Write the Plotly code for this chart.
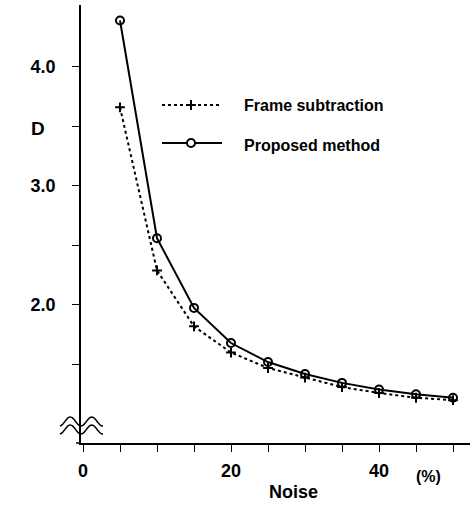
import numpy as np
import plotly.graph_objects as go

noise = [5, 10, 15, 20, 25, 30, 35, 40, 45, 50]
frame_subtraction = [3.66, 2.29, 1.82, 1.60, 1.47, 1.39, 1.31, 1.26, 1.22, 1.20]
proposed_method = [4.39, 2.56, 1.975, 1.68, 1.52, 1.42, 1.345, 1.29, 1.25, 1.22]
x_tickvals = [0, 5, 10, 15, 20, 25, 30, 35, 40, 45, 50]
x_ticktext = ["0", "", "", "", "20", "", "", "", "40", "", ""]
y_tickvals = [1.5, 2.0, 2.5, 3.0, 3.5, 4.0]
y_ticktext = ["", "2.0", "", "3.0", "", "4.0"]

W, H = 474, 507
L, R, T, B = 81, 4, 5, 64
PW, PH = W - L - R, H - T - B
def px(x): return (x - L) / PW
def py(y): return (H - B - y) / PH

FONT = "Liberation Sans, Arial, Helvetica, sans-serif"

fig = go.Figure()
fig.add_trace(go.Scatter(x=noise, y=frame_subtraction, mode="lines+markers",
                         line=dict(color="black", width=2, dash="dot"),
                         marker=dict(symbol="cross-thin", size=7, line=dict(color="black", width=2)),
                         name="Frame subtraction", showlegend=False))
fig.add_trace(go.Scatter(x=noise, y=proposed_method, mode="lines+markers",
                         line=dict(color="black", width=2),
                         marker=dict(symbol="circle-open", size=8, color="black", line=dict(color="black", width=2)),
                         name="Proposed method", showlegend=False))

# legend samples (paper-coordinate overlay axes)
fig.add_trace(go.Scatter(x=[px(162), px(222)], y=[py(105), py(105)], mode="lines",
                         line=dict(color="black", width=2, dash="dot"), xaxis="x2", yaxis="y2", showlegend=False))
fig.add_trace(go.Scatter(x=[px(191)], y=[py(105)], mode="markers",
                         marker=dict(symbol="cross-thin", size=7, line=dict(color="black", width=2)),
                         xaxis="x2", yaxis="y2", showlegend=False))
fig.add_trace(go.Scatter(x=[px(162), px(222)], y=[py(143), py(143)], mode="lines",
                         line=dict(color="black", width=2), xaxis="x2", yaxis="y2", showlegend=False))
fig.add_trace(go.Scatter(x=[px(191)], y=[py(143)], mode="markers",
                         marker=dict(symbol="circle", size=8, color="white", line=dict(color="black", width=2)),
                         xaxis="x2", yaxis="y2", showlegend=False))

annots = [
    dict(text="Frame subtraction", x=px(242), y=py(106), xanchor="left", yanchor="middle", size=16),
    dict(text="Proposed method", x=px(242), y=py(146), xanchor="left", yanchor="middle", size=16),
    dict(text="D", x=px(38), y=py(128), xanchor="center", yanchor="middle", size=19),
    dict(text="Noise", x=px(293), y=py(492), xanchor="center", yanchor="middle", size=18),
    dict(text="(%)", x=px(428), y=py(476), xanchor="center", yanchor="middle", size=16),
]
for a in annots:
    fig.add_annotation(text=a["text"], x=a["x"], y=a["y"], xref="paper", yref="paper",
                       xanchor=a["xanchor"], yanchor=a["yanchor"], showarrow=False,
                       font=dict(family=FONT, size=a["size"], color="black", weight="bold"))

# axis break symbol: two wavy lines
def wave(y0):
    xs = np.linspace(60, 103, 40)
    ys = y0 + 4.5 * np.cos((xs - 81) / 21.5 * 2 * np.pi)
    pts = [f"{px(a):.5f},{py(b):.5f}" for a, b in zip(xs, ys)]
    return "M" + " L".join(pts)
for y0 in (421.5, 429.5):
    fig.add_shape(type="path", path=wave(y0), xref="paper", yref="paper",
                  line=dict(color="black", width=1.5))
# x-axis line extension to the left
fig.add_shape(type="line", x0=px(76), x1=px(81), y0=0, y1=0, xref="paper", yref="paper",
              line=dict(color="black", width=1.5))

xr0 = -(83 - L) / 7.4
fig.update_layout(
    width=W, height=H, margin=dict(l=L, r=R, t=T, b=B),
    plot_bgcolor="white", paper_bgcolor="white",
    xaxis=dict(range=[xr0, xr0 + PW / 7.4], tickvals=x_tickvals, ticktext=x_ticktext,
               showline=True, linecolor="black", linewidth=1.5, ticks="outside", ticklen=7,
               tickwidth=1.2, tickcolor="black", showgrid=False, zeroline=False,
               ticklabelstandoff=4,
               tickfont=dict(family=FONT, size=18, color="black", weight="bold")),
    yaxis=dict(range=[0.84, 4.52], tickvals=y_tickvals, ticktext=y_ticktext,
               showline=True, linecolor="black", linewidth=1.5, ticks="outside", ticklen=7,
               tickwidth=1.2, tickcolor="black", showgrid=False, zeroline=False,
               ticklabelstandoff=13,
               tickfont=dict(family=FONT, size=18, color="black", weight="bold")),
    xaxis2=dict(range=[0, 1], overlaying="x", visible=False, fixedrange=True),
    yaxis2=dict(range=[0, 1], overlaying="y", visible=False, fixedrange=True),
)
fig.write_html("out.html", config={"displayModeBar": False},
               post_script="document.body.style.margin='0';document.body.style.overflow='hidden';")
